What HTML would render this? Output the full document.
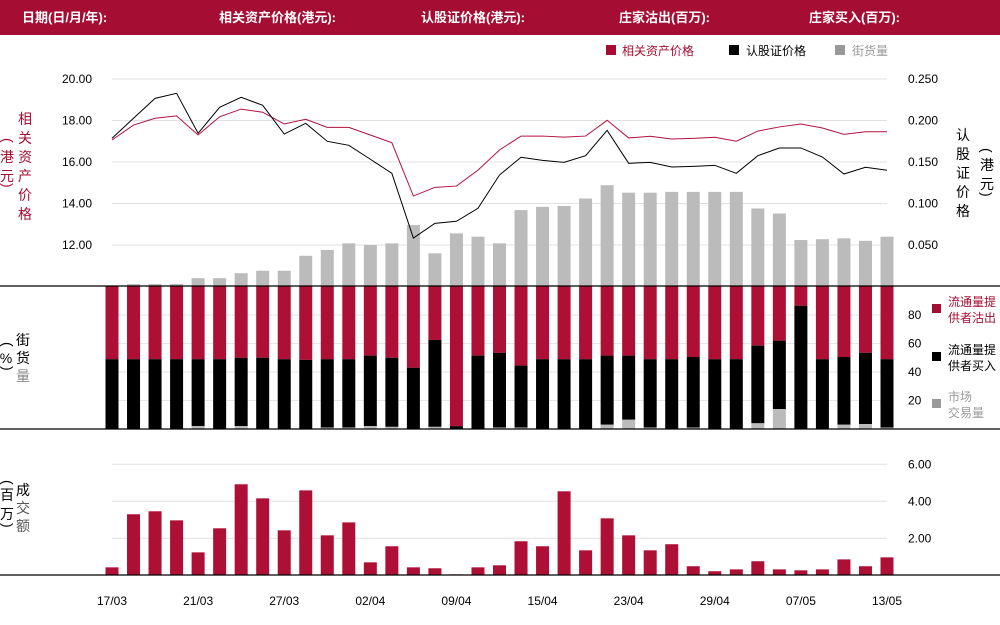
<!DOCTYPE html>
<html><head><meta charset="utf-8">
<style>
html,body{margin:0;padding:0;background:#fff;}
body{width:1000px;height:620px;overflow:hidden;font-family:"Liberation Sans","Noto Sans CJK SC",sans-serif;}
svg text{font-family:"Liberation Sans","Noto Sans CJK SC",sans-serif;}
</style></head>
<body>
<svg id="chart" width="1000" height="620" xmlns="http://www.w3.org/2000/svg">
<g>
<rect x="0" y="0" width="1000" height="35" fill="#a50d33"/>
<text x="22" y="22" fill="#fff" font-size="13" font-weight="bold">日期(日/月/年):</text>
<text x="219" y="22" fill="#fff" font-size="13" font-weight="bold">相关资产价格(港元):</text>
<text x="421" y="22" fill="#fff" font-size="13" font-weight="bold">认股证价格(港元):</text>
<text x="619" y="22" fill="#fff" font-size="13" font-weight="bold">庄家沽出(百万):</text>
<text x="809" y="22" fill="#fff" font-size="13" font-weight="bold">庄家买入(百万):</text>
</g>
<g>
<rect x="606" y="45" width="10" height="10" fill="#a50d33"/>
<text x="622" y="55" font-size="12" fill="#a50d33">相关资产价格</text>
<rect x="729" y="45" width="10" height="10" fill="#000"/>
<text x="746" y="55" font-size="12" fill="#000">认股证价格</text>
<rect x="835" y="45" width="10" height="10" fill="#999"/>
<text x="852" y="55" font-size="12" fill="#999">街货量</text>
</g>
<g font-size="14" fill="#a50d33">
<text x="25" y="124" text-anchor="middle">相</text><text x="25" y="143" text-anchor="middle">关</text><text x="25" y="162" text-anchor="middle">资</text><text x="25" y="181" text-anchor="middle">产</text><text x="25" y="200" text-anchor="middle">价</text><text x="25" y="219" text-anchor="middle">格</text>
<text x="0" y="0" transform="translate(3,138) rotate(90)" font-size="14">(</text>
<text x="7" y="162" text-anchor="middle">港</text><text x="7" y="181" text-anchor="middle">元</text>
<text x="0" y="0" transform="translate(3,183) rotate(90)" font-size="14">)</text>
</g>
<g font-size="14" fill="#000">
<text x="963" y="140" text-anchor="middle">认</text><text x="963" y="159" text-anchor="middle">股</text><text x="963" y="178" text-anchor="middle">证</text><text x="963" y="197" text-anchor="middle">价</text><text x="963" y="216" text-anchor="middle">格</text>
<text x="0" y="0" transform="translate(982,148) rotate(90)">(</text>
<text x="987" y="170" text-anchor="middle">港</text><text x="987" y="189" text-anchor="middle">元</text>
<text x="0" y="0" transform="translate(982,192) rotate(90)">)</text>
</g>
<g font-size="14">
<text x="23" y="345" text-anchor="middle" fill="#000">街</text><text x="23" y="363" text-anchor="middle" fill="#000">货</text><text x="23" y="381" text-anchor="middle" fill="#888">量</text>
<text x="0" y="0" transform="translate(3,342) rotate(90)">(</text>
<text x="6" y="363" text-anchor="middle">%</text>
<text x="0" y="0" transform="translate(3,366) rotate(90)">)</text>
</g>
<g font-size="14">
<text x="23" y="495" text-anchor="middle" fill="#000">成</text><text x="23" y="513" text-anchor="middle" fill="#555">交</text><text x="23" y="531" text-anchor="middle" fill="#555">额</text>
<text x="0" y="0" transform="translate(3,480) rotate(90)">(</text>
<text x="7" y="500" text-anchor="middle">百</text><text x="7" y="519" text-anchor="middle">万</text>
<text x="0" y="0" transform="translate(3,523) rotate(90)">)</text>
</g>
<g font-size="12">
<rect x="932" y="304" width="9" height="9" fill="#a50d33"/>
<text x="948" y="306" fill="#a50d33">流通量提</text><text x="948" y="322" fill="#a50d33">供者沽出</text>
<rect x="932" y="352" width="9" height="9" fill="#000"/>
<text x="948" y="354" fill="#000">流通量提</text><text x="948" y="370" fill="#000">供者买入</text>
<rect x="932" y="399" width="9" height="9" fill="#999"/>
<text x="948" y="401" fill="#999">市场</text><text x="948" y="417" fill="#999">交易量</text>
</g>
<g id="marks"></g>
</svg>
<script>
const dates = ["17/03","","","","21/03","","","","27/03","","","","02/04","","","","09/04","","","","15/04","","","","23/04","","","","29/04","","","","07/05","","","","13/05"];
const assetPrice = [17.06,17.78,18.11,18.22,17.30,18.18,18.55,18.40,17.83,18.06,17.67,17.67,17.30,16.93,14.36,14.78,14.84,15.61,16.58,17.25,17.25,17.20,17.25,18.01,17.16,17.24,17.11,17.14,17.19,17.00,17.49,17.69,17.83,17.64,17.33,17.46,17.46];
const warrantPrice = [0.1786,0.2027,0.2267,0.2328,0.1846,0.2159,0.2280,0.2183,0.1837,0.1966,0.1749,0.1701,0.1533,0.1364,0.0584,0.0761,0.0786,0.0942,0.1343,0.1557,0.1520,0.1496,0.1576,0.1882,0.1484,0.1496,0.1440,0.1448,0.1460,0.1364,0.1576,0.1669,0.1669,0.1560,0.1355,0.1436,0.1400];
const outstanding = [0,3,3,3,10,10,16,19,19,37,44,52,50,52,74,40,64,60,52,92,96,97,106,122,113,113,114,114,114,114,94,88,56,57,58,55,60];
const marketPct = [0,0,0,0,2,0,2,0,0,0,1,1,2,1.5,0,1.5,0,0,1,1,0,0,0,3,6.5,1,0,1,0,0,4,14,0,0,3,3.5,1];
const buyCumPct = [49,49,49,49,49,49,50,50,49,48.5,49,49,51.5,50,43,62.5,2,51.5,53.5,44.5,49,49,49,51.5,51.5,49,49,50.5,49,49,58.5,62,86.5,49,50.5,53.5,49];
const turnover = [0.43,3.30,3.46,2.97,1.24,2.54,4.92,4.16,2.43,4.59,2.16,2.86,0.70,1.57,0.43,0.38,0.05,0.43,0.54,1.84,1.57,4.54,1.35,3.08,2.16,1.35,1.68,0.49,0.22,0.32,0.76,0.32,0.27,0.32,0.86,0.49,0.97];
const leftTicks = ["12.00","14.00","16.00","18.00","20.00"];
const rightTicks = ["0.050","0.100","0.150","0.200","0.250"];
const pctTicks = ["20","40","60","80"];
const turnTicks = ["2.00","4.00","6.00"];

const NS="http://www.w3.org/2000/svg";
const g=document.getElementById('marks');
function mk(tag,attrs,parent){const e=document.createElementNS(NS,tag);for(const k in attrs)e.setAttribute(k,attrs[k]);(parent||g).appendChild(e);return e;}
const x0=112,step=(887-112)/36,bw=13;
const xS=i=>x0+i*step;
const yLeft=v=>245-(v-12)*20.75;
const yRight=v=>286.5-v*830;
const yOut=v=>286.5-v*207.5/250;
const yPct=v=>429-v*1.425;
const yTurn=v=>575.3-v*18.5;

// gridlines
leftTicks.forEach((t,i)=>{const y=yLeft(parseFloat(t));
 const l=mk('line',{x1:112,x2:887,y1:y,y2:y,stroke:'#e0e0e0','stroke-width':1});
 
 
 const tx=mk('text',{x:92,y:y+4,'text-anchor':'end','font-size':12,fill:'#000'});tx.textContent=t;
 
 
});
rightTicks.forEach(t=>{const y=yRight(parseFloat(t));
 const tx=mk('text',{x:908,y:y+4,'font-size':12,fill:'#000'});tx.textContent=t;
 
 
});
pctTicks.forEach(t=>{const y=yPct(parseFloat(t));
 const l=mk('line',{x1:106,x2:894,y1:y,y2:y,stroke:'#e6e6e6','stroke-width':1});
 
 
 const tx=mk('text',{x:908,y:y+4,'font-size':12,fill:'#000'});tx.textContent=t;
 
 
});
turnTicks.forEach(t=>{const y=yTurn(parseFloat(t));
 const l=mk('line',{x1:112,x2:887,y1:y,y2:y,stroke:'#e0e0e0','stroke-width':1});
 
 
 const tx=mk('text',{x:908,y:y+4,'font-size':12,fill:'#000'});tx.textContent=t;
 
 
});
// outstanding bars
outstanding.forEach((v,i)=>{const y=yOut(v);
 const r=mk('rect',{x:xS(i)-bw/2,y:y,width:bw,height:286.5-y,fill:'#bbbbbb'});
 
 
});
// lines
function line(arr,fn,color,name){
 const p=mk('polyline',{points:arr.map((v,i)=>xS(i)+','+fn(v)).join(' '),fill:'none',stroke:color,'stroke-width':1});
 
 
}
line(assetPrice,yLeft,'#b0123e','asset-price-line');
line(warrantPrice,yRight,'#000','warrant-price-line');
// stacked pct bars
buyCumPct.forEach((c,i)=>{const x=xS(i)-bw/2,m=marketPct[i];
 const r1=mk('rect',{x:x,y:yPct(100),width:bw,height:yPct(c)-yPct(100),fill:'#ad0f35'});
 
 
 const r2=mk('rect',{x:x,y:yPct(c),width:bw,height:yPct(m)-yPct(c),fill:'#000'});
 
 
 if(m>0){const r3=mk('rect',{x:x,y:yPct(m),width:bw,height:429-yPct(m),fill:'#bbbbbb'});
 
 }
});
// turnover bars
turnover.forEach((v,i)=>{const y=yTurn(v);
 const r=mk('rect',{x:xS(i)-bw/2,y:y,width:bw,height:575.3-y,fill:'#ad0f35'});
 
 
});
// panel lines
[286,429,575].forEach(y=>{const l=mk('line',{x1:0,x2:1000,y1:y,y2:y,stroke:'#000','stroke-width':1.2});
 
 
});
// x labels
dates.forEach((d,i)=>{if(!d)return;
 const t=mk('text',{x:xS(i),y:605,'text-anchor':'middle','font-size':12,fill:'#000'});t.textContent=d;
 
 
});
</script>
</body></html>
